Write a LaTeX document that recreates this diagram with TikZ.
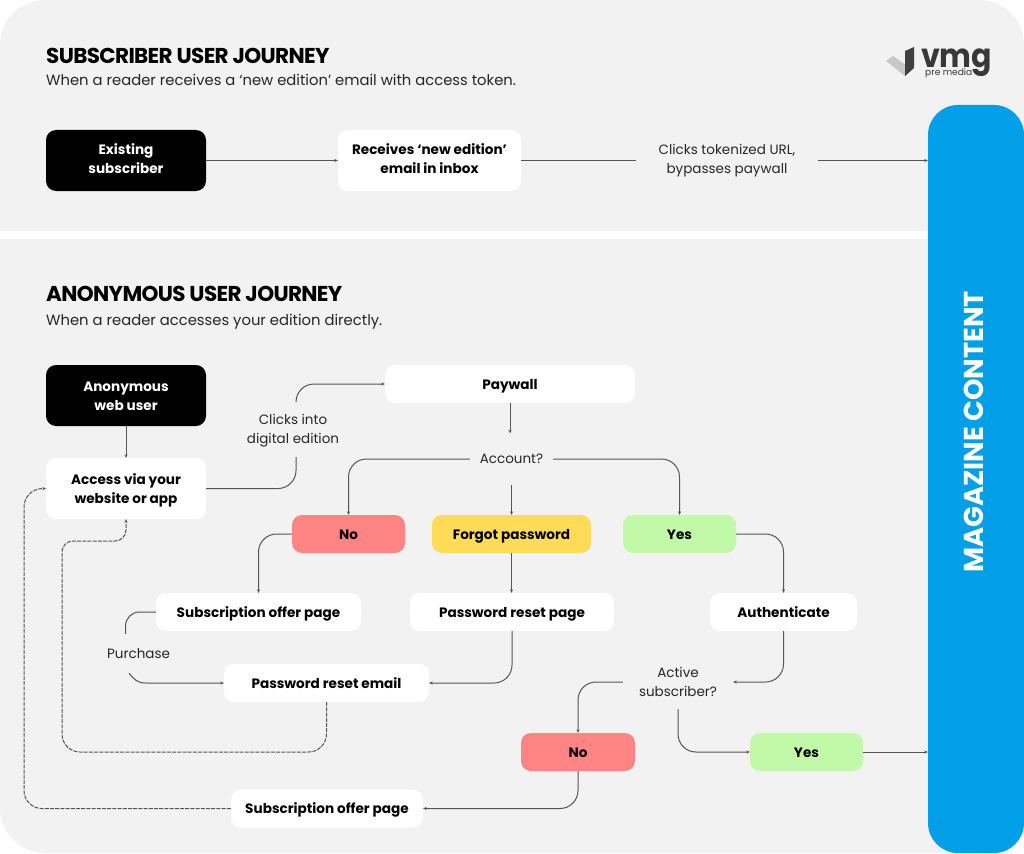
\documentclass[tikz,border=0pt]{standalone}
\usepackage{fontspec}
\setmainfont{Poppins}
\newfontfamily\titlefont[LetterSpace=-3]{Poppins}
\usetikzlibrary{arrows.meta}
\definecolor{panelgrey}{HTML}{F2F2F2}
\definecolor{linegrey}{HTML}{555555}
\definecolor{noRed}{HTML}{FF8585}
\definecolor{yesGreen}{HTML}{C1F9A8}
\definecolor{forgotYellow}{HTML}{FFDB58}
\definecolor{contentBlue}{HTML}{009FE8}
\newcommand{\dropline}{\rule{0pt}{14pt}}
\tikzset{
   struts/.style = {execute at begin node={\rule{0pt}{14pt}}, execute at end node={\rule[-4pt]{0pt}{4pt}}},
   lift/.style = {execute at end node={\rule[-#1pt]{0pt}{#1pt}}},
   box/.style = {rounded corners=10, align=center, inner sep=0pt, struts, font=\fontsize{13.6}{19}\selectfont\bfseries},
   whitebox/.style = {box, fill=white, minimum height=38},
   blackbox/.style = {box, fill=black, text=white, minimum width=160, minimum height=61},
   talkbox/.style = {align=center, inner sep=0pt, struts, text=black!85, font=\fontsize{13.5}{19}\selectfont},
   link/.style = {draw=linegrey, line width=1pt, rounded corners=18, -{Stealth[length=3.5pt,width=3.2pt]}},
   noarrow/.style = {draw=linegrey, line width=1pt, rounded corners=18},
   dashlink/.style = {link, dash pattern=on 4pt off 1.2pt},
   heading/.style = {anchor=west, inner sep=0pt, font=\titlefont\fontsize{21.5}{24}\selectfont\bfseries},
   subheading/.style = {anchor=west, inner sep=0pt, text=black!85, font=\fontsize{14.78}{18}\selectfont}
}
\begin{document}
\begin{tikzpicture}[x=1pt,y=-1pt]
   \useasboundingbox (0,0) rectangle (1024,853);
   \fill[panelgrey] (0,231) [rounded corners=45] -- (0,0) -- (1024,0) [sharp corners] -- (1024,231) -- cycle;
   \fill[panelgrey] (0,239) -- (1024,239) [rounded corners=45] -- (1024,853) -- (0,853) [sharp corners] -- cycle;

   \node[heading] (subtitle) at (46,56) {SUBSCRIBER USER JOURNEY};
   \node[subheading] (subtext) at (46,80) {When a reader receives a ‘new edition’ email with access token.};
   \node[heading] (anontitle) at (46,294) {ANONYMOUS USER JOURNEY};
   \node[subheading] (anontext) at (46,322) {When a reader accesses your edition directly.};

   \fill[black!22] (886,61) -- (893,56) -- (912,69) -- (905,76) -- cycle;
   \fill[black!75] (905,51) -- (914,47) -- (914,68) -- (905,76) -- cycle;
   \node[anchor=west, inner sep=0pt, xscale=0.91, text=black!78, font=\fontsize{33}{33}\selectfont\bfseries] (vmg) at (921,63) {vmg};
   \node[anchor=west, inner sep=0pt, text=black!78, font=\fontsize{9.1}{10}\selectfont] (premedia) at (925,73.5) {pre media};

   \node[fill=contentBlue, rounded corners=30, minimum width=96, minimum height=748, inner sep=0pt] (content) at (976,479) {};
   \node[rotate=90, inner sep=0pt, text=white, font=\fontsize{27.3}{30}\selectfont\bfseries] (contentlabel) at (974,432) {MAGAZINE CONTENT};

   \node[blackbox] (existing) at (126,160.5) {Existing\\subscriber};
   \node[whitebox, minimum width=183, minimum height=61] (receives) at (429.5,160.5) {Receives ‘new edition’\\email in inbox};
   \node[talkbox, minimum width=182, minimum height=50] (clicks) at (727,160.5) {Clicks tokenized URL,\\bypasses paywall};

   \node[blackbox] (anon) at (126,395.5) {\dropline Anonymous\\web user};
   \node[whitebox, minimum width=160, minimum height=61] (access) at (126,488.5) {\dropline Access via your\\website or app};
   \node[talkbox, minimum width=70, minimum height=57] (digital) at (293,428.5) {\dropline Clicks into\\digital edition};
   \node[whitebox, minimum width=250] (paywall) at (510,384) {Paywall};
   \node[talkbox, lift=6, minimum width=83, minimum height=51] (account) at (511.5,459) {Account?};

   \node[whitebox, fill=noRed, minimum width=113] (nofirst) at (348.5,534) {No};
   \node[whitebox, fill=forgotYellow, minimum width=159] (forgot) at (511.5,534) {Forgot password};
   \node[whitebox, fill=yesGreen, minimum width=113] (yesfirst) at (679.5,534) {Yes};

   \node[whitebox, minimum width=205] (offerpage) at (258.5,612) {Subscription offer page};
   \node[whitebox, minimum width=204] (resetpage) at (512,612) {Password reset page};
   \node[whitebox, minimum width=147] (authenticate) at (783.5,612) {Authenticate};

   \node[talkbox, minimum width=63, minimum height=39] (purchase) at (138.5,653.5) {Purchase};
   \node[whitebox, minimum width=205] (resetmail) at (326.5,683) {Password reset email};
   \node[talkbox, minimum width=110, minimum height=54] (active) at (678,682) {\dropline Active\\subscriber?};

   \node[whitebox, fill=noRed, minimum width=114] (nosecond) at (578,752) {No};
   \node[whitebox, fill=yesGreen, minimum width=113] (yessecond) at (806.5,752) {Yes};
   \node[whitebox, minimum width=192] (offerlast) at (327,808.5) {Subscription offer page};

   \coordinate (purchasein) at (146,683);
   \coordinate (loopbottom) at (62,752);
   \coordinate (looptop) at (62,541);
   \coordinate (outerleft) at (24,489);

   \draw[link] (existing) -- (receives);
   \draw[noarrow] (receives) -- (clicks);
   \draw[link] (clicks.east) -- (clicks -| content.west);
   \draw[link] (anon) -- (access);
   \draw[noarrow] (access.east) -| ([xshift=3pt]digital.south);
   \draw[link] ([xshift=3pt]digital.north) |- (paywall.west);
   \draw[link] (paywall.south) -- (paywall.south |- account.north);
   \draw[link] (account.west) -| (nofirst.north);
   \draw[link] (account.east) -| (yesfirst.north);
   \draw[link] (account.south) -- (forgot.north);
   \draw[link] (nofirst.west) -| (offerpage.north);
   \draw[link] (forgot.south) -- (forgot.south |- resetpage.north);
   \draw[link] (yesfirst.east) -| (authenticate.north);
   \draw[noarrow, rounded corners=14] (offerpage.west) -| ([xshift=-13pt]purchase.north);
   \draw[link, sharp corners] ([xshift=-9.5pt]purchase.south) .. controls +(5,6) and +(-9,0) .. (purchasein) -- (resetmail.west);
   \draw[link] (resetpage.south) |- (resetmail.east);
   \draw[link] (authenticate.south) |- (active.east);
   \draw[link] (active.west) -| (nosecond.north);
   \draw[link] (active.south) |- (yessecond.west);
   \draw[link] (yessecond.east) -- (yessecond -| content.west);
   \draw[link] (nosecond.south) |- (offerlast.east);
   \draw[dashlink] (resetmail.south) |- (loopbottom) [rounded corners=11] -- (looptop) -| (access.south);
   \draw[dashlink] (offerlast.west) -| (outerleft) -- (access.west);
\end{tikzpicture}
\end{document}
